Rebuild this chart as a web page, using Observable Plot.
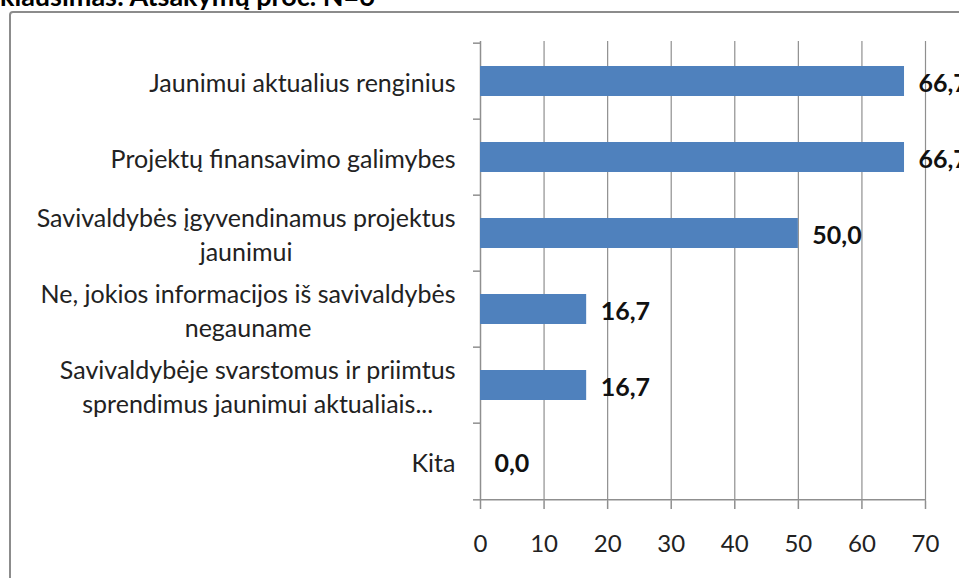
<!DOCTYPE html>
<html>
<head>
<meta charset="utf-8">
<script src="https://cdn.jsdelivr.net/npm/d3@7"></script>
<script src="https://cdn.jsdelivr.net/npm/@observablehq/plot@0.6"></script>
<style>
  html, body { margin: 0; padding: 0; background: #fff; overflow: hidden; }
  #wrap { position: relative; width: 959px; height: 578px; overflow: hidden; }
  #title { position: absolute; left: 0px; top: -21px; font: bold 27px Lato, sans-serif; color: #000; white-space: nowrap; }
  #box { position: absolute; left: 9px; top: 11px; width: 1000px; height: 600px; border: 2px solid #8c8c8c; border-radius: 4px; box-sizing: border-box; }
  #chart { position: absolute; left: 0; top: 0; }
</style>
</head>
<body>
<div id="wrap">
  <div id="box"></div>
  <div id="title">klausimas: Atsakymų proc. N=6</div>
  <div id="chart"></div>
</div>
<script>
const categories = [
  "Jaunimui aktualius renginius",
  "Projektų finansavimo galimybes",
  "Savivaldybės įgyvendinamus projektus\njaunimui",
  "Ne, jokios informacijos iš savivaldybės\nnegauname",
  "Savivaldybėje svarstomus ir priimtus\nsprendimus jaunimui aktualiais...",
  "Kita"
];
const values = [66.7, 66.7, 50.0, 16.7, 16.7, 0.0];
const valueLabels = ["66,7", "66,7", "50,0", "16,7", "16,7", "0,0"];
const xTicks = [0, 10, 20, 30, 40, 50, 60, 70];

const data = categories.map((c, i) => ({cat: c, value: values[i], label: valueLabels[i]}));

const W = 959, H = 578;
const mTop = 41, mBottom = 77, mLeft = 480, mRight = 34;
const step = (H - mTop - mBottom) / categories.length;
const gridColor = "#8f8f8f";
const font = "Lato, sans-serif";

const chart = Plot.plot({
  width: W,
  height: H,
  marginTop: mTop,
  marginBottom: mBottom,
  marginLeft: mLeft,
  marginRight: mRight,
  style: {background: "transparent", fontFamily: font, overflow: "visible"},
  x: {domain: [0, 70], ticks: xTicks, label: null, tickSize: 8, tickPadding: 25, tickFormat: d => String(d)},
  y: {domain: categories, paddingInner: 0.61, paddingOuter: 0.305, axis: null, label: null},
  marks: [
    Plot.gridX(xTicks.filter(t => t > 0), {stroke: gridColor, strokeOpacity: 1, strokeWidth: 1.2}),
    Plot.ruleX([0], {stroke: gridColor, strokeWidth: 1.5}),
    Plot.ruleY(categories, {y: d => d, x1: 0, x2: 0, insetLeft: -7, dy: -step / 2, stroke: gridColor, strokeWidth: 1.5}),
    Plot.ruleY(categories.slice(-1), {y: d => d, x1: 0, x2: 0, insetLeft: -7, dy: step / 2, stroke: gridColor, strokeWidth: 1.5}),
    Plot.axisX({ticks: xTicks, tickSize: 8, tickPadding: 25, stroke: gridColor, strokeWidth: 1.5, fontSize: 24, fill: "#222", strokeOpacity: 1, tickFormat: d => String(d), fontFamily: font}),
    Plot.ruleY(categories.slice(-1), {y: d => d, x1: 0, x2: 70, dy: step / 2, stroke: gridColor, strokeWidth: 1.5}),
    Plot.barX(data, {x: "value", y: "cat", fill: "#4F81BD"}),
    Plot.text(data, {x: 0, y: "cat", text: "cat", dx: -25, textAnchor: "end", lineAnchor: "middle", lineHeight: 1.36, fontSize: 25, fill: "#222", fontFamily: font, className: "catlabel"}),
    Plot.text(data, {x: "value", y: "cat", text: "label", dx: 14, dy: 2, textAnchor: "start", fontSize: 25, fontWeight: "bold", fill: "#111", fontFamily: font})
  ]
});
document.getElementById("chart").appendChild(chart);

// center multi-line category labels within their block (right edge kept)
d3.select(chart).selectAll("g.catlabel text").each(function () {
  const tspans = this.querySelectorAll("tspan");
  if (tspans.length < 2) return;
  const w = this.getBBox().width;
  this.setAttribute("text-anchor", "middle");
  tspans.forEach(t => t.setAttribute("x", -w / 2));
});
</script>
</body>
</html>
